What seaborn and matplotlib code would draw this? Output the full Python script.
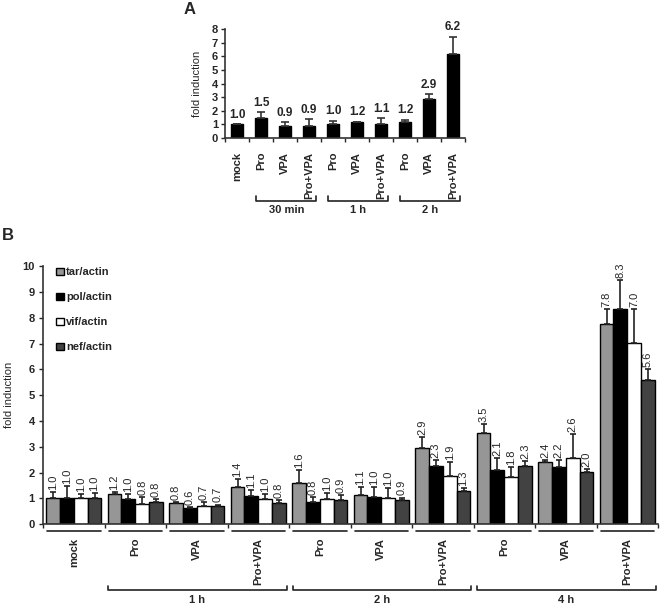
import numpy as np
import pandas as pd
import matplotlib
matplotlib.use('Agg')
import matplotlib.pyplot as plt
import matplotlib.transforms as mtransforms
import seaborn as sns

# ---- panel A data ----
a_labels = ['mock', 'Pro', 'VPA', 'Pro+VPA', 'Pro', 'VPA', 'Pro+VPA', 'Pro', 'VPA', 'Pro+VPA']
a_values = [1.0, 1.5, 0.88, 0.9, 1.0, 1.16, 1.06, 1.16, 2.88, 6.18]
a_errors = [0.0, 0.41, 0.27, 0.47, 0.27, 0.05, 0.4, 0.18, 0.33, 1.27]
a_groups = [('30 min', 1, 3), ('1 h', 4, 6), ('2 h', 7, 9)]

# ---- panel B data ----
b_labels = ['mock', 'Pro', 'VPA', 'Pro+VPA', 'Pro', 'VPA', 'Pro+VPA', 'Pro', 'VPA', 'Pro+VPA']
genes = ['tar/actin', 'pol/actin', 'vif/actin', 'nef/actin']
tar = [1.0, 1.16, 0.8, 1.44, 1.6, 1.14, 2.94, 3.53, 2.39, 7.76]
pol = [1.0, 0.97, 0.63, 1.09, 0.84, 1.04, 2.27, 2.1, 2.22, 8.33]
vif = [1.0, 0.79, 0.69, 0.97, 0.99, 1.01, 1.88, 1.84, 2.56, 7.04]
nef = [1.0, 0.84, 0.72, 0.82, 0.92, 0.92, 1.3, 2.27, 2.03, 5.6]
tar_err = [0.23, 0.09, 0.04, 0.31, 0.5, 0.29, 0.43, 0.36, 0.1, 0.58]
pol_err = [0.49, 0.2, 0.03, 0.22, 0.2, 0.38, 0.21, 0.48, 0.25, 1.15]
vif_err = [0.17, 0.25, 0.17, 0.19, 0.22, 0.4, 0.52, 0.39, 0.92, 1.32]
nef_err = [0.22, 0.12, 0.04, 0.12, 0.2, 0.11, 0.09, 0.18, 0.11, 0.42]
b_groups = [('1 h', 1, 3), ('2 h', 4, 6), ('4 h', 7, 9)]
gene_colors = ['#969696', '#000000', '#ffffff', '#424242']

sns.set_style('ticks')
plt.rcParams['font.family'] = ['Liberation Sans', 'DejaVu Sans']
plt.rcParams['axes.linewidth'] = 1.2
plt.rcParams['axes.edgecolor'] = '#333333'

fig = plt.figure(figsize=(6.62, 6.08), dpi=100)
axA = fig.add_axes([0.340, 0.773, 0.3625, 0.179])
axB = fig.add_axes([0.065, 0.138, 0.929, 0.424])

# ---------- panel A ----------
a_ids = [f'{i}_{l}' for i, l in enumerate(a_labels)]
dfa = pd.DataFrame({'cond': a_ids, 'fold': a_values})
sns.barplot(data=dfa, x='cond', y='fold', color='black', width=0.5,
            edgecolor='black', ax=axA)
xa = np.arange(len(a_values))
axA.errorbar(xa, a_values, yerr=[np.zeros(len(a_errors)), a_errors], fmt='none',
             ecolor='#333333', elinewidth=1.2, capsize=3, capthick=1.2)
for x, v, e in zip(xa, a_values, a_errors):
    axA.text(x, v + e + 0.25, f'{v:.1f}', ha='center', va='bottom',
             fontsize=8.5, fontweight='bold')
axA.set_ylim(0, 8)
axA.set_xlim(-0.5, len(a_values) - 0.5)
axA.set_yticks(range(0, 9))
axA.set_xticks(xa)
axA.set_xticklabels(a_labels, rotation=90, fontweight='bold', fontsize=8)
axA.set_xticks(np.arange(-0.5, len(a_values)), minor=True)
axA.tick_params(axis='x', which='major', length=0, pad=10)
axA.tick_params(axis='x', which='minor', length=3, width=1, direction='out')
axA.tick_params(axis='y', labelsize=8, length=3, width=1, pad=2)
for t in axA.get_yticklabels():
    t.set_fontweight('bold')
axA.set_xlabel('')
axA.set_ylabel('fold induction', fontsize=8, labelpad=7)
sns.despine(ax=axA)
trA = mtransforms.blended_transform_factory(axA.transData, axA.transAxes)
for name, i0, i1 in a_groups:
    x0, x1 = i0 - 0.2, i1 + 0.3
    axA.plot([x0, x0, x1, x1], [-0.53, -0.58, -0.58, -0.53], color='#222222',
             lw=1.2, transform=trA, clip_on=False)
    axA.text((x0 + x1) / 2, -0.62, name, transform=trA, ha='center', va='top',
             fontsize=8, fontweight='bold')

# ---------- panel B ----------
b_ids = [f'{i}_{l}' for i, l in enumerate(b_labels)]
vals = {'tar/actin': tar, 'pol/actin': pol, 'vif/actin': vif, 'nef/actin': nef}
errs = {'tar/actin': tar_err, 'pol/actin': pol_err, 'vif/actin': vif_err, 'nef/actin': nef_err}
rows = []
for g in genes:
    for cid, v in zip(b_ids, vals[g]):
        rows.append({'cond': cid, 'gene': g, 'fold': v})
dfb = pd.DataFrame(rows)
sns.barplot(data=dfb, x='cond', y='fold', hue='gene', hue_order=genes,
            palette=gene_colors, width=0.9, edgecolor='black', linewidth=1.0,
            ax=axB)
for cont, g in zip(axB.containers, genes):
    xs = [p.get_x() + p.get_width() / 2 for p in cont.patches]
    e = errs[g]
    v = vals[g]
    axB.errorbar(xs, v, yerr=[np.zeros(len(e)), e], fmt='none', ecolor='#222222',
                 elinewidth=1.2, capsize=2.5, capthick=1.2)
    for x, vv, ee in zip(xs, v, e):
        axB.text(x, vv + ee + 0.08, f'{vv:.1f}', rotation=90, ha='center',
                 va='bottom', fontsize=8)
axB.set_ylim(0, 10)
axB.set_xlim(-0.5, len(b_labels) - 0.5)
axB.set_yticks(range(0, 11))
xb = np.arange(len(b_labels))
axB.set_xticks(xb)
axB.set_xticklabels(b_labels, rotation=90, fontweight='bold', fontsize=8)
axB.set_xticks(np.arange(-0.5, len(b_labels)), minor=True)
axB.tick_params(axis='x', which='major', length=0, pad=10)
axB.tick_params(axis='x', which='minor', length=3, width=1, direction='out')
axB.tick_params(axis='y', labelsize=8, length=3, width=1, pad=3)
for t in axB.get_yticklabels():
    t.set_fontweight('bold')
axB.set_xlabel('')
axB.set_ylabel('fold induction', fontsize=8, labelpad=6)
sns.despine(ax=axB)
trB = mtransforms.blended_transform_factory(axB.transData, axB.transAxes)
for x in xb:
    axB.plot([x - 0.43, x + 0.44], [-0.027, -0.027], color='#222222', lw=1.2,
             transform=trB, clip_on=False)
for name, i0, i1 in b_groups:
    x0, x1 = i0 - 0.44, i1 + 0.46
    axB.plot([x0, x0, x1, x1], [-0.24, -0.256, -0.256, -0.24], color='#222222',
             lw=1.2, transform=trB, clip_on=False)
    axB.text((x0 + x1) / 2, -0.275, name, transform=trB, ha='center', va='top',
             fontsize=8, fontweight='bold')
leg = axB.legend(loc='upper left', bbox_to_anchor=(0.005, 1.035), frameon=False,
                 handlelength=0.7, handleheight=0.7, handletextpad=0.2,
                 labelspacing=1.35, prop={'size': 8, 'weight': 'bold'})

fig.text(0.287, 0.984, 'A', fontsize=12, fontweight='bold', ha='center', va='center')
fig.text(0.012, 0.612, 'B', fontsize=12, fontweight='bold', ha='center', va='center')

fig.savefig('out.png', dpi=100)
